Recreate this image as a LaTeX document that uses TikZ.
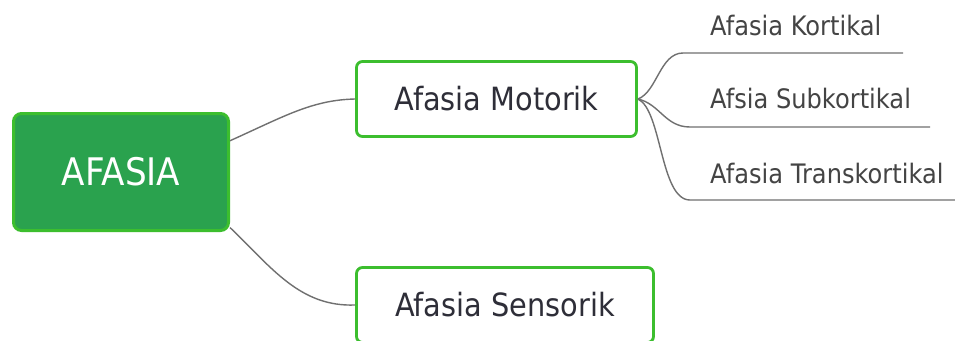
\documentclass[tikz,border=0pt]{standalone}
\usepackage{fontspec}
\setmainfont{DejaVu Sans}[FakeStretch=0.9]
\usetikzlibrary{calc}
\definecolor{bordergreen}{HTML}{3CBE2E}
\definecolor{fillgreen}{HTML}{2AA24E}
\definecolor{conncol}{HTML}{707070}
\definecolor{txtcol}{HTML}{2E2E38}
\definecolor{subcol}{HTML}{444444}
\tikzset{
  rootbox/.style={draw=bordergreen, fill=fillgreen, line width=3pt, rounded corners=8pt,
    minimum width=215pt, minimum height=117pt, inner sep=0pt, text=white,
    font=\fontsize{38}{42}\selectfont},
  topicbox/.style={draw=bordergreen, fill=white, line width=2.8pt, rounded corners=6pt,
    minimum height=75pt, inner sep=0pt, text=txtcol,
    font=\fontsize{32}{36}\selectfont},
  subtopic/.style={anchor=base west, inner sep=0pt, text=subcol,
    font=\fontsize{26.8}{30}\selectfont},
  conn/.style={draw=conncol, line width=1.4pt}
}
\begin{document}
\begin{tikzpicture}[x=1pt,y=-1pt]
\useasboundingbox (0,0) rectangle (955,340);
\clip (0,0) rectangle (955,340);
\fill[white] (0,0) rectangle (955,340);

\node[rootbox] (root) at (121,172) {AFASIA};
\node[topicbox, minimum width=280pt] (mot) at (496.5,99) {Afasia Motorik};
\node[topicbox, minimum width=297pt] (sen) at (505,305) {Afasia Sensorik};

\node[subtopic] (kor) at (710,35) {Afasia Kortikal};
\node[subtopic] (sub) at (710,108) {Afsia Subkortikal};
\node[subtopic] (tra) at (710,183) {Afasia Transkortikal};

\coordinate (k1) at (683,53);  \coordinate (k2) at (903,53);
\coordinate (s1) at (690,127); \coordinate (s2) at (930,127);
\coordinate (t1) at (690,200); \coordinate (t2) at (958,200);

\draw[conn] (root.16) .. controls (285,116) and (312,100) .. (mot.west);
\draw[conn] (root.-27) .. controls (272,268) and (300,307) .. (sen.west);

\draw[conn] (mot.east) .. controls (657,92) and (660,53) .. (k1) -- (k2);
\draw[conn] (mot.east) .. controls (660,104) and (665,127) .. (s1) -- (s2);
\draw[conn] (mot.east) .. controls (662,110) and (660,200) .. (t1) -- (t2);
\end{tikzpicture}
\end{document}
